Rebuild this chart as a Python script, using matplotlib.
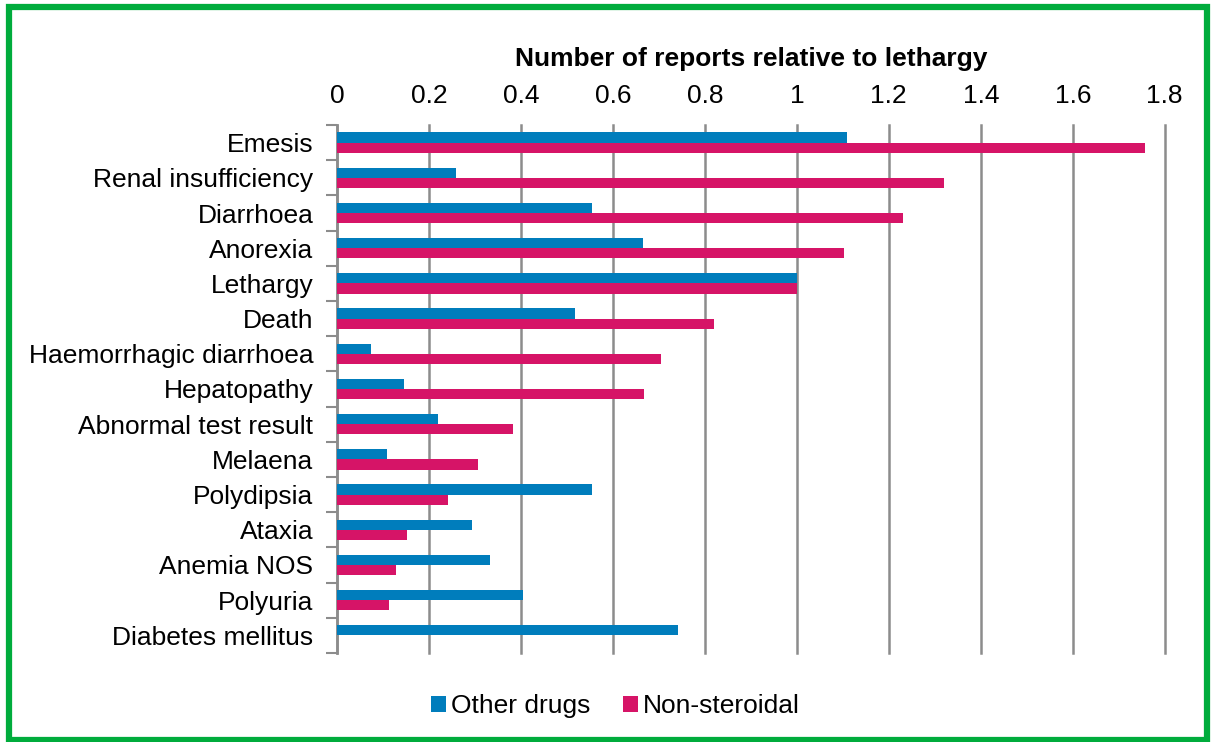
import matplotlib.pyplot as plt
import numpy as np
from matplotlib.patches import Rectangle

plt.rcParams["font.family"] = ["Liberation Sans", "DejaVu Sans"]

categories = ["Emesis", "Renal insufficiency", "Diarrhoea", "Anorexia", "Lethargy",
              "Death", "Haemorrhagic diarrhoea", "Hepatopathy", "Abnormal test result",
              "Melaena", "Polydipsia", "Ataxia", "Anemia NOS", "Polyuria",
              "Diabetes mellitus"]
other_drugs = [1.11, 0.259, 0.554, 0.665, 1.0, 0.517, 0.074, 0.146, 0.22, 0.109,
               0.554, 0.293, 0.333, 0.404, 0.741]
non_steroidal = [1.757, 1.32, 1.23, 1.102, 1.0, 0.82, 0.704, 0.667, 0.383, 0.307,
                 0.241, 0.152, 0.128, 0.113, 0.0]
x_ticks = [0, 0.2, 0.4, 0.6, 0.8, 1, 1.2, 1.4, 1.6, 1.8]
x_labels = ["0", "0.2", "0.4", "0.6", "0.8", "1", "1.2", "1.4", "1.6", "1.8"]

blue = "#007DBC"
red = "#D61467"
fs = 19

fig = plt.figure(figsize=(12.12, 7.42), dpi=100)
ax = fig.add_axes([0.278, 0.12, 0.683, 0.7115])

y = np.arange(len(categories))
h = 0.29
ax.barh(y - h / 2, other_drugs, height=h, color=blue, label="Other drugs", zorder=3)
ax.barh(y + h / 2, non_steroidal, height=h, color=red, label="Non-steroidal", zorder=3)

ax.set_ylim(len(categories) - 0.5, -0.5)
ax.set_xlim(0, 1.8)
ax.xaxis.tick_top()
ax.set_xticks(x_ticks)
ax.set_xticklabels(x_labels, fontsize=fs)
ax.tick_params(axis="x", length=0, pad=12)
ax.grid(axis="x", color="#8c8c8c", linewidth=1.8, zorder=0)
for line in ax.get_xgridlines():
    line.set_clip_on(False)

ax.set_yticks(y)
ax.set_yticklabels(categories, fontsize=fs)
ax.set_yticks(np.arange(len(categories) + 1) - 0.5, minor=True)
ax.tick_params(axis="y", which="major", length=0, pad=17)
ax.tick_params(axis="y", which="minor", length=8, width=1.5, color="#8c8c8c")

for s in ["top", "right", "bottom"]:
    ax.spines[s].set_visible(False)
ax.spines["left"].set_color("#8c8c8c")
ax.spines["left"].set_linewidth(1.8)

fig.text(0.62, 0.921, "Number of reports relative to lethargy", ha="center",
         va="center", fontsize=fs, fontweight="bold")

fig.legend(loc="center", bbox_to_anchor=(0.508, 0.048), ncol=2, frameon=False,
           fontsize=fs, handlelength=0.55, handleheight=0.55, handletextpad=0.2,
           columnspacing=1.25)

fig.patches.append(Rectangle((0.0075, 0.003), 0.988, 0.988, transform=fig.transFigure,
                             fill=False, edgecolor="#00AC3C", linewidth=4.5))

fig.savefig("out.png", dpi=100)
